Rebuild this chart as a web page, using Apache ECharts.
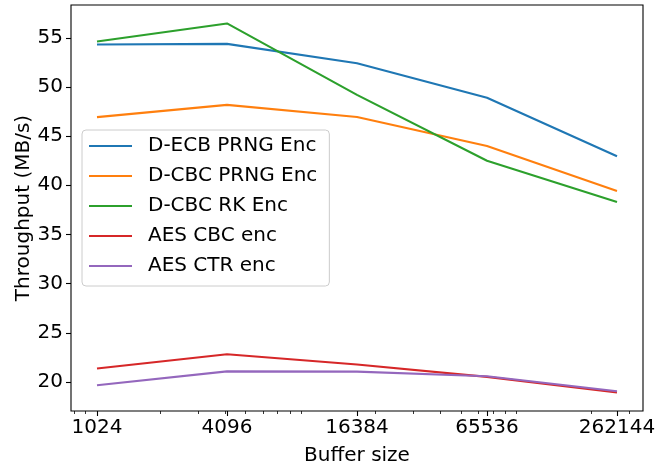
<!DOCTYPE html>
<html>
<head>
<meta charset="utf-8">
<script src="https://cdn.jsdelivr.net/npm/echarts@6/dist/echarts.min.js"></script>
<style>html,body{margin:0;padding:0;background:#fff}#c{width:659px;height:472px}</style>
</head>
<body>
<div id="c"></div>
<script>
const bufferSizes = [1024, 4096, 16384, 65536, 262144];
const seriesNames = ['D-ECB PRNG Enc', 'D-CBC PRNG Enc', 'D-CBC RK Enc', 'AES CBC enc', 'AES CTR enc'];
const decbPrng = [54.32, 54.38, 52.42, 48.9, 42.96];
const dcbcPrng = [46.93, 48.18, 46.95, 44.0, 39.43];
const dcbcRk = [54.63, 56.46, 49.2, 42.5, 38.31];
const aesCbc = [21.36, 22.82, 21.77, 20.51, 18.92];
const aesCtr = [19.66, 21.07, 21.05, 20.58, 19.06];
const yTicks = [20, 25, 30, 35, 40, 45, 50, 55];
const xMinorTicks = [800, 900, 2000, 3000, 4000, 5000, 6000, 7000, 8000, 9000,
  20000, 30000, 40000, 50000, 60000, 70000, 80000, 90000, 200000, 300000];
const colors = ['#1f77b4', '#ff7f0e', '#2ca02c', '#d62728', '#9467bd'];
const allValues = [decbPrng, dcbcPrng, dcbcRk, aesCbc, aesCtr];

const FONT = 'DejaVu Sans';
const FS = 20;
const chart = echarts.init(document.getElementById('c'), null, {renderer: 'canvas'});

// matplotlib-like 5% margins in log space
const lx0 = Math.log10(bufferSizes[0]), lx1 = Math.log10(bufferSizes[bufferSizes.length - 1]);
const xMin = Math.pow(10, lx0 - 0.05 * (lx1 - lx0));
const xMax = Math.pow(10, lx1 + 0.05 * (lx1 - lx0));
const flat = allValues.flat();
const yLo = Math.min(...flat), yHi = Math.max(...flat);
const yMin = yLo - 0.05 * (yHi - yLo), yMax = yHi + 0.05 * (yHi - yLo);

const option = {
  animation: false,
  color: colors,
  grid: {left: 71, right: 16, top: 5, bottom: 61, show: true, borderColor: '#000', borderWidth: 1.1, backgroundColor: 'transparent'},
  legend: {
    orient: 'vertical', left: 82, top: 130,
    data: seriesNames.map(n => ({name: n, icon: 'rect'})),
    itemWidth: 43, itemHeight: 2, itemGap: 8,
    padding: [5, 12, 9, 7],
    backgroundColor: 'rgba(255,255,255,0.8)',
    borderColor: '#cccccc', borderWidth: 1, borderRadius: 4,
    textStyle: {fontFamily: FONT, fontSize: FS, color: '#000', padding: [0, 0, 0, 11], lineHeight: 22}
  },
  xAxis: [{
    type: 'log', logBase: 4, min: xMin, max: xMax,
    name: 'Buffer size', nameLocation: 'middle', nameGap: 35, nameMoveOverlap: false,
    nameTextStyle: {fontFamily: FONT, fontSize: FS, color: '#000'},
    axisLine: {show: false},
    axisTick: {show: true, customValues: bufferSizes, length: 5, lineStyle: {color: '#000', width: 1.1}},
    axisLabel: {customValues: bufferSizes, fontFamily: FONT, fontSize: FS, color: '#000', margin: 7,
      formatter: v => String(Math.round(v))},
    splitLine: {show: false}, minorTick: {show: false}
  }, {
    type: 'log', logBase: 10, min: xMin, max: xMax, position: 'bottom',
    axisLine: {show: false},
    axisTick: {show: true, customValues: xMinorTicks, length: 3, lineStyle: {color: '#000', width: 0.8}},
    axisLabel: {show: false},
    splitLine: {show: false}
  }],
  yAxis: {
    type: 'value', min: yMin, max: yMax,
    name: 'Throughput (MB/s)', nameLocation: 'middle', nameGap: 37, nameMoveOverlap: false,
    nameTextStyle: {fontFamily: FONT, fontSize: FS, color: '#000'},
    axisLine: {show: false},
    axisTick: {show: true, customValues: yTicks, length: 5, lineStyle: {color: '#000', width: 1.1}},
    axisLabel: {customValues: yTicks, fontFamily: FONT, fontSize: FS, color: '#000', margin: 8},
    splitLine: {show: false}
  },
  series: seriesNames.map((name, i) => ({
    name: name, type: 'line', xAxisIndex: 0,
    symbol: 'none', smooth: false,
    lineStyle: {width: 2.1, color: colors[i]},
    itemStyle: {color: colors[i]},
    data: bufferSizes.map((x, j) => [x, allValues[i][j]])
  }))
};
chart.setOption(option);
</script>
</body>
</html>
